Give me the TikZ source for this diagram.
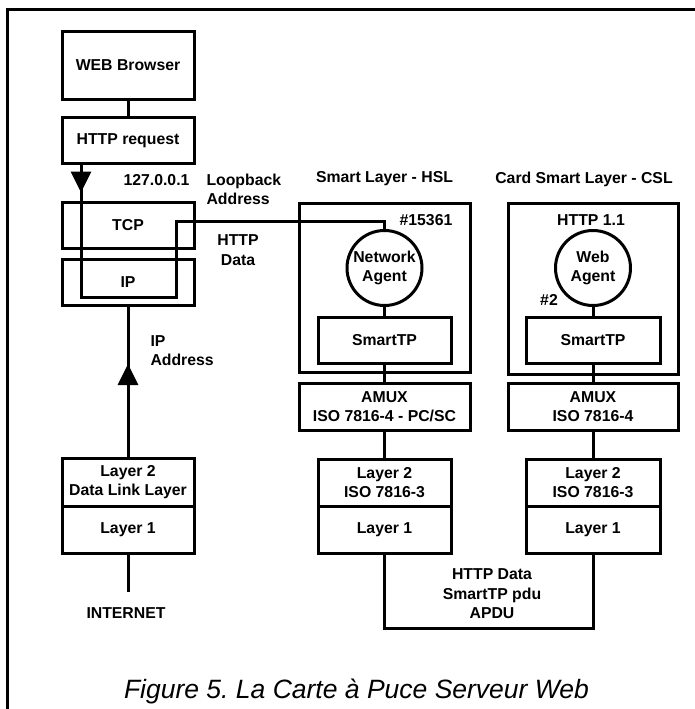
\documentclass[tikz,border=0pt]{standalone}
\usepackage{fontspec}
\setmainfont{Liberation Sans}
\usepackage{tikz}
\usetikzlibrary{positioning, calc, arrows.meta}

\tikzset{
    box/.style={draw, line width=3pt, minimum width=132pt, minimum height=46pt, inner sep=0pt, outer sep=0pt, align=center},
    widebox/.style={box, minimum width=171pt},
    agent/.style={draw, circle, line width=3pt, minimum size=75pt, inner sep=0pt, align=center},
    conn/.style={line width=3pt},
    tip/.style={conn, -{Triangle[width=20pt, length=21pt]}},
}

\begin{document}
\frenchspacing
\begin{tikzpicture}[x=1pt, y=-1pt, every node/.style={font=\bfseries\fontsize{15.8}{19.5}\selectfont}]
    \useasboundingbox (0,0) rectangle (695,709);
    %cornice
        \draw[conn] (7,709) -- (7,10) -- (695,10);
    %colonna sinistra
        \node[box, minimum height=67pt] (browser) at (128,65.5) {WEB Browser};
        \node[box] (httpreq) at (128,140.5) {HTTP request};
        \node[box] (tcp) at (128,225) {TCP};
        \node[box] (ip) at (128,282) {IP};
        \node[box, minimum height=48pt] (datalink) at (128,482) {Layer 2\\Data Link Layer};
        \node[box, minimum height=47pt, below=0pt of datalink] (phys) {Layer 1};
        \node (inet) at (126,613) {INTERNET};
    %colonna HSL
        \node (hsltitle) at (384.5,179) {Smart Layer - HSL};
        \node[widebox, minimum height=169pt] (hsl) at (384.5,287.5) {};
        \node (port) at (426,220) {\#15361};
        \node[agent] (netagent) at (384.5,268) {Network\\Agent};
        \node[box, minimum width=133pt] (smarttpA) at (384.5,340) {SmartTP};
        \node[widebox, minimum height=47pt] (amuxA) at (384.5,406.5) {AMUX\\ISO 7816-4 - PC/SC};
        \node[box, minimum width=133pt, minimum height=47pt] (isoA) at (384.5,482.5) {Layer 2\\ISO 7816-3};
        \node[box, minimum width=133pt, minimum height=47pt, below=0pt of isoA] (layerA) {Layer 1};
    %colonna CSL
        \node (csltitle) at (584,179) {Card Smart Layer - CSL};
        \node[widebox, minimum width=170pt, minimum height=171pt] (csl) at (593,288.5) {};
        \node (proto) at (591,220) {HTTP 1.1};
        \node[agent] (webagent) at (593,268) {Web\\Agent};
        \node (slot) at (549,300) {\#2};
        \node[box, minimum width=134pt] (smarttpB) at (593,340) {SmartTP};
        \node[widebox, minimum width=170pt, minimum height=47pt] (amuxB) at (593,406.5) {AMUX\\ISO 7816-4};
        \node[box, minimum width=134pt, minimum height=47pt] (isoB) at (593,482.5) {Layer 2\\ISO 7816-3};
        \node[box, minimum width=134pt, minimum height=47pt, below=0pt of isoB] (layerB) {Layer 1};
    %etichette
        \node (lo) at (156.5,180) {127.0.0.1};
        \node[anchor=west, align=left] (loback) at (203,189.5) {Loopback\\Address};
        \node[align=center] (httpdata) at (238,250) {HTTP\\Data};
        \node[anchor=west, align=left] (ipaddr) at (147,350.5) {IP\\Address};
        \node[align=center] (pdu) at (492,594) {HTTP Data\\SmartTP pdu\\APDU};
    %collegamenti
        \coordinate (ret) at (176,297);
        \coordinate (top) at (176,221);
        \draw[conn] (browser) -- (httpreq);
        \draw[conn] ([xshift=19pt]httpreq.south west) |- (ret) |- (netagent.north |- top) -- (netagent.north);
        \draw[tip] ([xshift=19pt]httpreq.south west) -- ++(0,29);
        \draw[conn] (ip) -- (datalink);
        \draw[tip] (datalink.north) -- ++(0,-94);
        \draw[conn] (phys.south) -- ([yshift=12pt]phys.south |- inet.north);
        \draw[conn] (netagent) -- (smarttpA);
        \draw[conn] (smarttpA) -- (amuxA);
        \draw[conn] (amuxA) -- (isoA);
        \draw[conn] (webagent) -- (smarttpB);
        \draw[conn] (smarttpB) -- (amuxB);
        \draw[conn] (amuxB) -- (isoB);
        \coordinate (bot) at (0,628);
        \draw[conn] (layerA.south) |- (bot -| layerB.south) -- (layerB.south);
    %didascalia
        \node[font=\mdseries\itshape\fontsize{26.5}{30}\selectfont] (caption) at (356.5,691) {Figure 5. La Carte à Puce Serveur Web};
\end{tikzpicture}
\end{document}
